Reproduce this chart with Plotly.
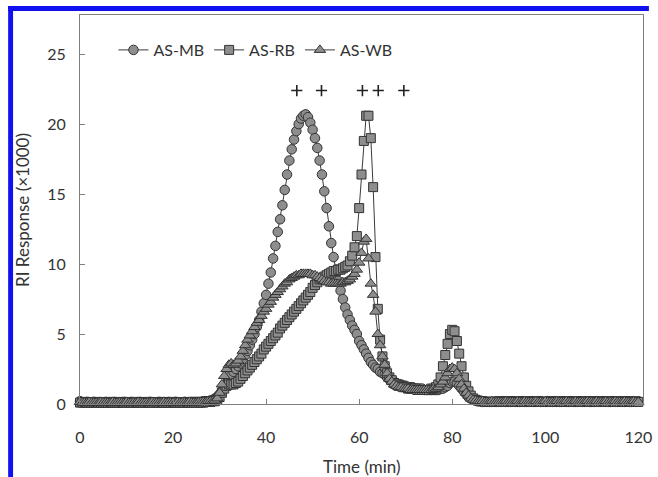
import plotly.graph_objects as go

# ---------------- data ----------------
time_min = [i / 2 for i in range(241)]  # sampling every 0.5 min, 0..120

as_mb = [
    0.2, 0.1, 0.1, 0.15, 0.1, 0.1, 0.15, 0.1, 0.1, 0.1,
    0.1, 0.15, 0.1, 0.1, 0.1, 0.15, 0.1, 0.1, 0.1, 0.15,
    0.1, 0.1, 0.15, 0.1, 0.1, 0.1, 0.15, 0.1, 0.1, 0.1,
    0.15, 0.1, 0.1, 0.1, 0.15, 0.1, 0.1, 0.1, 0.15, 0.1,
    0.1, 0.15, 0.1, 0.1, 0.1, 0.15, 0.1, 0.1, 0.15, 0.15,
    0.15, 0.15, 0.15, 0.2, 0.2, 0.2, 0.25, 0.3, 0.4, 0.5,
    0.7, 0.95, 1.2, 1.5, 1.8, 2.1, 2.3, 2.5, 2.7, 2.9,
    3.2, 3.5, 3.8, 4.2, 4.6, 5.0, 5.5, 6.0, 6.6, 7.2,
    7.8, 8.6, 9.4, 10.4, 11.3, 12.3, 13.2, 14.2, 15.3, 16.4,
    17.4, 18.2, 18.9, 19.5, 20.0, 20.4, 20.6, 20.7, 20.5, 20.1,
    19.6, 19.0, 18.3, 17.4, 16.4, 15.2, 14.0, 12.7, 11.5, 10.5,
    9.6, 8.8, 8.1, 7.5, 6.9, 6.4, 6.0, 5.6, 5.3, 5.0,
    4.5, 4.2, 3.9, 3.6, 3.3, 3.0, 2.8, 2.6, 2.5, 2.3,
    2.2, 2.1, 1.9, 1.8, 1.7, 1.6, 1.5, 1.4, 1.4, 1.3,
    1.3, 1.2, 1.2, 1.2, 1.1, 1.1, 1.1, 1.1, 1.0, 1.0,
    1.0, 1.0, 1.0, 1.0, 1.0, 1.1, 1.1, 1.2, 1.3, 1.5,
    1.6, 1.6, 1.5, 1.3, 1.1, 0.9, 0.7, 0.5, 0.4, 0.3,
    0.25, 0.2, 0.2, 0.15, 0.15, 0.15, 0.15, 0.15, 0.15, 0.15,
    0.15, 0.15, 0.2, 0.15, 0.15, 0.15, 0.2, 0.15, 0.15, 0.15,
    0.2, 0.15, 0.15, 0.15, 0.2, 0.15, 0.15, 0.2, 0.15, 0.15,
    0.15, 0.2, 0.15, 0.15, 0.2, 0.15, 0.15, 0.15, 0.2, 0.15,
    0.15, 0.2, 0.15, 0.15, 0.15, 0.2, 0.15, 0.15, 0.2, 0.15,
    0.15, 0.15, 0.2, 0.15, 0.15, 0.2, 0.15, 0.15, 0.15, 0.2,
    0.15, 0.15, 0.2, 0.15, 0.15, 0.2, 0.15, 0.15, 0.2, 0.15,
    0.2,
]

as_rb = [
    0.1, 0.1, 0.15, 0.1, 0.1, 0.1, 0.1, 0.15, 0.1, 0.1,
    0.1, 0.1, 0.1, 0.15, 0.1, 0.1, 0.1, 0.1, 0.15, 0.1,
    0.1, 0.1, 0.1, 0.1, 0.15, 0.1, 0.1, 0.1, 0.1, 0.15,
    0.1, 0.1, 0.1, 0.1, 0.1, 0.15, 0.1, 0.1, 0.1, 0.1,
    0.15, 0.1, 0.1, 0.1, 0.1, 0.1, 0.15, 0.1, 0.1, 0.1,
    0.1, 0.1, 0.1, 0.1, 0.15, 0.15, 0.15, 0.2, 0.2, 0.3,
    0.5, 0.8, 1.1, 1.3, 1.4, 1.4, 1.4, 1.5, 1.6, 1.8,
    2.0, 2.2, 2.4, 2.6, 2.8, 3.0, 3.2, 3.4, 3.6, 3.9,
    4.1, 4.3, 4.5, 4.7, 4.9, 5.1, 5.4, 5.6, 5.8, 6.0,
    6.2, 6.4, 6.6, 6.8, 7.0, 7.2, 7.4, 7.6, 7.8, 8.0,
    8.3, 8.5, 8.7, 8.9, 9.0, 9.1, 9.2, 9.3, 9.4, 9.5,
    9.5, 9.6, 9.6, 9.7, 9.8, 9.9, 10.2, 10.6, 11.2, 12.0,
    14.0, 16.4, 18.8, 20.6, 20.6, 19.0, 15.5, 10.5, 6.8, 4.6,
    3.4, 2.7, 2.2, 1.9, 1.7, 1.5, 1.4, 1.3, 1.3, 1.2,
    1.2, 1.1, 1.1, 1.1, 1.1, 1.0, 1.0, 1.0, 1.0, 1.0,
    1.0, 1.1, 1.1, 1.2, 1.4, 1.9, 2.7, 3.5, 4.3, 5.0,
    5.3, 5.2, 4.5, 3.6, 2.7, 1.9, 1.3, 0.9, 0.6, 0.4,
    0.3, 0.25, 0.2, 0.2, 0.15, 0.15, 0.15, 0.15, 0.15, 0.15,
    0.2, 0.15, 0.15, 0.15, 0.15, 0.2, 0.15, 0.15, 0.15, 0.2,
    0.15, 0.15, 0.15, 0.2, 0.15, 0.15, 0.15, 0.2, 0.15, 0.15,
    0.15, 0.15, 0.2, 0.15, 0.15, 0.15, 0.2, 0.15, 0.15, 0.15,
    0.2, 0.15, 0.15, 0.15, 0.2, 0.15, 0.15, 0.15, 0.2, 0.15,
    0.15, 0.2, 0.15, 0.15, 0.15, 0.2, 0.15, 0.15, 0.15, 0.2,
    0.15, 0.15, 0.15, 0.2, 0.15, 0.15, 0.2, 0.15, 0.15, 0.15,
    0.15,
]

as_wb = [
    0.15, 0.1, 0.1, 0.1, 0.15, 0.1, 0.1, 0.1, 0.1, 0.15,
    0.1, 0.1, 0.1, 0.1, 0.15, 0.1, 0.1, 0.1, 0.1, 0.1,
    0.15, 0.1, 0.1, 0.1, 0.1, 0.15, 0.1, 0.1, 0.1, 0.1,
    0.1, 0.15, 0.1, 0.1, 0.1, 0.1, 0.15, 0.1, 0.1, 0.1,
    0.1, 0.1, 0.15, 0.1, 0.1, 0.1, 0.1, 0.15, 0.1, 0.1,
    0.1, 0.15, 0.15, 0.15, 0.15, 0.2, 0.2, 0.2, 0.25, 0.4,
    0.8, 1.4, 2.0, 2.5, 2.8, 2.9, 2.8, 2.9, 3.1, 3.4,
    3.8, 4.2, 4.6, 4.9, 5.2, 5.5, 5.8, 6.0, 6.3, 6.6,
    6.8, 7.1, 7.3, 7.6, 7.8, 8.0, 8.2, 8.4, 8.6, 8.7,
    8.9, 9.0, 9.1, 9.2, 9.2, 9.3, 9.3, 9.3, 9.3, 9.3,
    9.2, 9.2, 9.1, 9.0, 8.9, 8.8, 8.7, 8.7, 8.6, 8.6,
    8.6, 8.6, 8.6, 8.7, 8.7, 8.8, 8.9, 9.1, 9.3, 9.6,
    10.1, 10.8, 11.6, 11.8, 10.4, 8.6, 7.8, 6.6, 5.0, 4.2,
    3.4, 2.8, 2.2, 1.8, 1.6, 1.4, 1.3, 1.2, 1.2, 1.1,
    1.1, 1.1, 1.0, 1.0, 1.0, 1.0, 1.0, 1.0, 1.0, 1.0,
    1.0, 1.0, 1.1, 1.1, 1.2, 1.4, 1.6, 1.9, 2.2, 2.5,
    2.6, 2.5, 2.2, 1.8, 1.4, 1.1, 0.8, 0.6, 0.4, 0.3,
    0.25, 0.2, 0.2, 0.2, 0.15, 0.15, 0.15, 0.2, 0.15, 0.15,
    0.15, 0.15, 0.15, 0.2, 0.15, 0.15, 0.15, 0.15, 0.2, 0.15,
    0.15, 0.2, 0.15, 0.15, 0.15, 0.15, 0.2, 0.15, 0.15, 0.15,
    0.2, 0.15, 0.15, 0.15, 0.15, 0.2, 0.15, 0.15, 0.15, 0.2,
    0.15, 0.15, 0.15, 0.2, 0.15, 0.15, 0.15, 0.15, 0.2, 0.15,
    0.15, 0.15, 0.2, 0.15, 0.15, 0.15, 0.2, 0.15, 0.15, 0.15,
    0.2, 0.15, 0.15, 0.15, 0.2, 0.15, 0.15, 0.15, 0.2, 0.15,
    0.15,
]

series_names = ["AS-MB", "AS-RB", "AS-WB"]

# "+" marks above the peaks
plus_time = [46.6, 51.9, 60.7, 64.1, 69.6]
plus_level = [22.4, 22.4, 22.4, 22.4, 22.4]

x_ticks = [0, 20, 40, 60, 80, 100, 120]
y_ticks = [0, 5, 10, 15, 20, 25]

# ---------------- figure ----------------
W, H = 658, 477
ML, MR, MT, MB = 80, 6, 15, 73
plot_w = W - ML - MR
plot_h = H - MT - MB


def px_x(p):
    return (p - ML) / plot_w


def px_y(p):
    return (H - MB - p) / plot_h


FONT = "Lato, 'Open Sans', sans-serif"
TXT = "#333333"
FILL = "#8e8e8e"
EDGE = "#333333"

symbols = ["circle", "square", "triangle-up"]
sizes = [9.5, 9, 10]
series_vals = [as_mb, as_rb, as_wb]

fig = go.Figure()
for name, vals, sym, sz in zip(series_names, series_vals, symbols, sizes):
    fig.add_trace(go.Scatter(
        x=time_min, y=vals, name=name, mode="lines+markers",
        line=dict(color="#3a3a3a", width=1),
        marker=dict(symbol=sym, size=sz, color=FILL,
                    line=dict(color=EDGE, width=1)),
        cliponaxis=False,
    ))

fig.add_trace(go.Scatter(
    x=plus_time, y=plus_level, mode="markers", showlegend=False,
    marker=dict(symbol="cross-thin", size=8,
                line=dict(color="#222222", width=1.6)),
    cliponaxis=False,
))

axis_common = dict(
    showgrid=False, zeroline=False, showline=True, mirror=True,
    linecolor="#7f7f7f", linewidth=1, ticks="inside", ticklen=5,
    tickcolor="#7f7f7f", tickwidth=1,
    tickfont=dict(family=FONT, size=16, color=TXT),
    ticklabeloverflow="allow",
)

fig.update_xaxes(range=[0, 121.0], tickvals=x_ticks,
                 ticktext=[str(v) for v in x_ticks],
                 ticklabelstandoff=19, **axis_common)
fig.update_yaxes(range=[0, 27.8], tickvals=y_ticks,
                 ticktext=[str(v) for v in y_ticks],
                 ticklabelstandoff=10, **axis_common)

blue = "#1010f0"
shapes = [
    dict(type="rect", xref="paper", yref="paper",
         x0=px_x(7), x1=px_x(658), y0=px_y(11), y1=px_y(6),
         fillcolor=blue, line=dict(width=0), layer="above"),
    dict(type="rect", xref="paper", yref="paper",
         x0=px_x(7), x1=px_x(12), y0=px_y(477), y1=px_y(6),
         fillcolor=blue, line=dict(width=0), layer="above"),
]

annotations = [
    dict(text="Time (min)", xref="paper", yref="paper",
         x=px_x(366), y=px_y(466), showarrow=False,
         xanchor="center", yanchor="middle",
         font=dict(family=FONT, size=17, color=TXT)),
    dict(text="RI Response (×1000)", xref="paper", yref="paper",
         x=px_x(22), y=px_y(210), showarrow=False, textangle=-90,
         xanchor="center", yanchor="middle",
         font=dict(family=FONT, size=17, color=TXT)),
]

fig.update_layout(
    width=W, height=H, autosize=False,
    margin=dict(l=ML, r=MR, t=MT, b=MB, pad=0),
    paper_bgcolor="white", plot_bgcolor="white",
    shapes=shapes, annotations=annotations,
    legend=dict(orientation="h", x=px_x(114), y=px_y(50),
                xanchor="left", yanchor="middle",
                bgcolor="rgba(0,0,0,0)",
                font=dict(family=FONT, size=16, color=TXT),
                itemwidth=30, tracegroupgap=0),
)

fig.write_html(
    "out.html",
    config={"displayModeBar": False},
    post_script="document.body.style.margin='0px';"
                "document.body.style.overflow='hidden';",
)
